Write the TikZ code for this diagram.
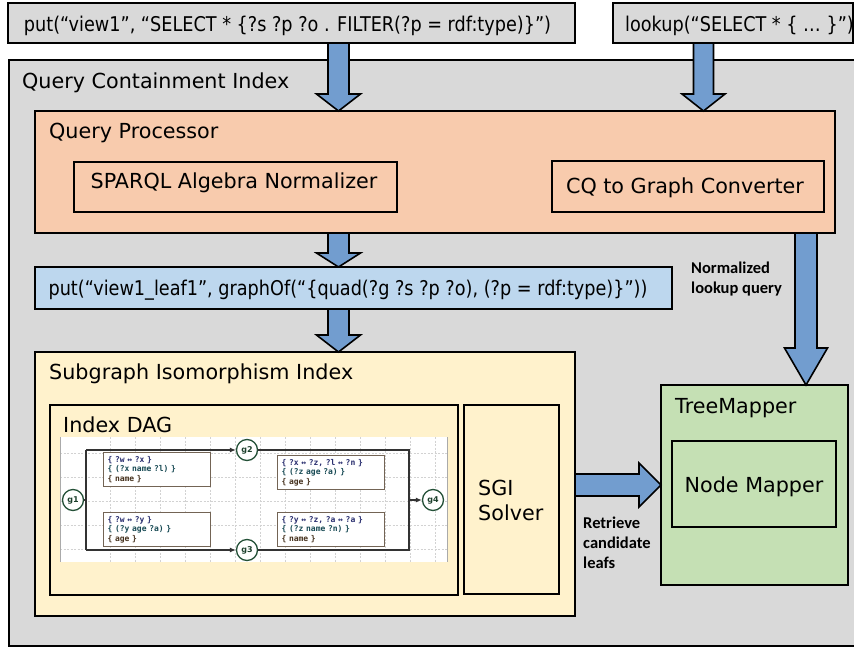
\documentclass[tikz,border=0pt]{standalone}
\usepackage{fontspec}
\setmainfont{DejaVu Sans}
\newfontfamily\tahfont[FakeStretch=0.87]{DejaVu Sans}
\newfontfamily\calibfont{Carlito}
\newfontfamily\dmonofont{DejaVu Sans Mono}
\usetikzlibrary{calc,arrows.meta}

\definecolor{qgray}{RGB}{217,217,217}
\definecolor{peach}{RGB}{248,203,173}
\definecolor{lblue}{RGB}{189,215,238}
\definecolor{lyel}{RGB}{255,242,204}
\definecolor{lgreen}{RGB}{197,224,180}
\definecolor{abl}{RGB}{114,157,207}
\definecolor{dgreen}{RGB}{35,80,55}
\definecolor{rbord}{RGB}{115,100,85}
\definecolor{dnavy}{RGB}{40,45,110}
\definecolor{dteal}{RGB}{25,75,85}
\definecolor{dbrown}{RGB}{70,50,30}
\definecolor{gridc}{RGB}{210,210,210}
\definecolor{imgedge}{RGB}{170,170,170}

\tikzset{
  box/.style={draw=black, line width=1.8pt, inner sep=0pt, outer sep=0pt, anchor=north west},
  lbl/.style={anchor=base west, inner sep=0pt, font=\fontsize{20.7}{24}\selectfont},
  blbl/.style={anchor=base west, inner sep=0pt, font=\calibfont\bfseries\fontsize{16.5}{20}\selectfont},
  codetxt/.style={inner sep=0pt, font=\tahfont\fontsize{20.3}{24}\selectfont},
  blk/.style={draw=black, line width=1.6pt, fill=abl, line join=miter},
  dagrect/.style={draw=rbord, line width=1.1pt, fill=white, anchor=north west, inner xsep=4pt, inner ysep=1pt,
    text width=99pt, minimum height=34pt, align=left, font=\dmonofont\bfseries\fontsize{8}{9.6}\selectfont},
  gc/.style={circle, draw=dgreen, line width=1.3pt, fill=white, minimum size=21pt, inner sep=0pt,
    font=\bfseries\fontsize{8}{9}\selectfont, text=dgreen!80!black},
  dagl/.style={draw=black!80, line width=1.1pt},
  dagarr/.style={dagl, -{Latex[length=6pt,width=5pt]}},
  gridl/.style={draw=gridc, line width=0.5pt, dash pattern=on 2pt off 1.5pt},
}

\newcommand{\vblk}[5]{%
  \draw[blk] let \p1=(#1), \p2=(#2) in
   (\x1-#3,\y1) -- (\x1-#3,\y2+#5) -- (\x1-#4,\y2+#5) -- (\x1,\y2) --
   (\x1+#4,\y2+#5) -- (\x1+#3,\y2+#5) -- (\x1+#3,\y1) -- cycle;}
\newcommand{\hblk}[5]{%
  \draw[blk] let \p1=(#1), \p2=(#2) in
   (\x1,\y1+#3) -- (\x2-#5,\y1+#3) -- (\x2-#5,\y1+#4) -- (\x2,\y1) --
   (\x2-#5,\y1-#4) -- (\x2-#5,\y1-#3) -- (\x1,\y1-#3) -- cycle;}

\begin{document}
\begin{tikzpicture}[x=1pt,y=-1pt]
\useasboundingbox (0,0) rectangle (854,648);

% top input boxes
\node[box, fill=qgray, minimum width=567pt, minimum height=40pt] (top1) at (8,3) {};
\node[codetxt, anchor=base] (top1t) at (287.5,31) {put(“view1”, “SELECT * \{?s ?p ?o . FILTER(?p = rdf:type)\}”)};
\node[box, fill=qgray, minimum width=240pt, minimum height=40pt] (top2) at (613,3) {};
\node[codetxt, anchor=base west] (top2t) at (625,31) {lookup(“SELECT * \{ … \}”)};

% outer container
\node[box, fill=qgray, minimum width=870pt, minimum height=586pt] (qci) at (9,60) {};
\node[lbl] (qcit) at (22,88) {Query Containment Index};

% query processor
\node[box, fill=peach, line width=1.6pt, minimum width=800pt, minimum height=122pt] (qp) at (35,111) {};
\node[lbl] (qpt) at (49,138) {Query Processor};
\node[box, fill=peach, line width=1.6pt, minimum width=323pt, minimum height=50pt] (sparql) at (74,162) {};
\node[lbl, anchor=base] (sparqlt) at (234,188) {SPARQL Algebra Normalizer};
\node[box, fill=peach, line width=1.6pt, minimum width=272pt, minimum height=51pt] (cq) at (552,161) {};
\node[lbl, anchor=base] (cqt) at (685,193) {CQ to Graph Converter};

% blue put box
\node[box, fill=lblue, minimum width=637pt, minimum height=42pt] (put2) at (35,267) {};
\node[codetxt, anchor=base] (put2t) at (348,295) {put(“view1\_leaf1”, graphOf(“\{quad(?g ?s ?p ?o), (?p = rdf:type)\}”))};

% subgraph isomorphism index
\node[box, fill=lyel, minimum width=540pt, minimum height=264pt] (sgi) at (35,352) {};
\node[lbl] (sgit) at (49,379) {Subgraph Isomorphism Index};
\node[box, fill=lyel, line width=2.4pt, minimum width=408pt, minimum height=190pt] (dag) at (50,405) {};
\node[lbl] (dagt) at (63,432) {Index DAG};
\node[box, fill=lyel, line width=2.4pt, minimum width=95pt, minimum height=189pt] (solver) at (464,405) {};
\node[lbl] (solvert1) at (478,495) {SGI};
\node[lbl] (solvert2) at (478,520) {Solver};

% DAG picture
\node[anchor=north west, fill=white, inner sep=0pt, minimum width=387pt, minimum height=125pt] (img) at (60,437) {};
\foreach \gx in {110,135,...,445} \draw[gridl] (\gx,437) -- (\gx,562);
\foreach \gy in {453,477,501,525,549} \draw[gridl] (60,\gy) -- (447,\gy);
\draw[draw=imgedge, line width=0.8pt] (img.north west) -- (img.south west);
\draw[draw=imgedge, line width=0.8pt] (img.north east) -- (img.south east);

\node[gc] (g1) at (73,500) {g1};
\node[gc] (g2) at (247,450) {g2};
\node[gc] (g3) at (247,550) {g3};
\node[gc] (g4) at (433,500) {g4};
\coordinate (j1) at (86,500);
\coordinate (j2) at (409,500);
\draw[dagl] (g1) -- (j1);
\draw[dagl] (j1 |- g2) -- (j1 |- g3);
\draw[dagarr] (j1 |- g2) -- (g2);
\draw[dagarr] (j1 |- g3) -- (g3);
\draw[dagl] (g2) -- (j2 |- g2) -- (j2 |- g3) -- (g3);
\draw[dagarr] (j2) -- (g4);

\node[dagrect] (r1) at (103,452) {\color{dnavy}\{ ?w ↔ ?x \}\\\color{dteal}\{ (?x name ?l) \}\\\color{dbrown}\{ name \}};
\node[dagrect] (r2) at (277,455) {\color{dnavy}\{ ?x ↔ ?z, ?l ↔ ?n \}\\\color{dteal}\{ (?z age ?a) \}\\\color{dbrown}\{ age \}};
\node[dagrect] (r3) at (103,512) {\color{dnavy}\{ ?w ↔ ?y \}\\\color{dteal}\{ (?y age ?a) \}\\\color{dbrown}\{ age \}};
\node[dagrect] (r4) at (277,512) {\color{dnavy}\{ ?y ↔ ?z, ?a ↔ ?a \}\\\color{dteal}\{ (?z name ?n) \}\\\color{dbrown}\{ name \}};

% TreeMapper
\node[box, fill=lgreen, minimum width=187pt, minimum height=200pt] (tree) at (661,385) {};
\node[lbl] (treet) at (675,413) {TreeMapper};
\node[box, fill=lgreen, minimum width=164pt, minimum height=86pt] (nmap) at (672,441) {};
\node[lbl, anchor=base] (nmapt) at (754,492) {Node Mapper};

% bold annotations
\node[blbl] (ann1a) at (691,273) {Normalized};
\node[blbl] (ann1b) at (691,293) {lookup query};
\node[blbl] (ann2a) at (583,528) {Retrieve};
\node[blbl] (ann2b) at (583,548) {candidate};
\node[blbl] (ann2c) at (583,568) {leafs};

% block arrows
\coordinate (ax1) at (338.5,0);
\coordinate (ax2) at (703.5,0);
\coordinate (ax3) at (806,0);
\coordinate (ay1) at (0,485);
\vblk{top1.south -| ax1}{qp.north -| ax1}{10.5pt}{22pt}{17pt}
\vblk{top2.south -| ax2}{qp.north -| ax2}{10pt}{21.5pt}{17pt}
\vblk{qp.south -| ax1}{put2.north -| ax1}{10.5pt}{22pt}{14pt}
\vblk{put2.south -| ax1}{sgi.north -| ax1}{10.5pt}{22pt}{17pt}
\vblk{qp.south -| ax3}{tree.north -| ax3}{11pt}{21.5pt}{37pt}
\hblk{sgi.east |- ay1}{tree.west |- ay1}{11pt}{22pt}{22pt}
\end{tikzpicture}
\end{document}
